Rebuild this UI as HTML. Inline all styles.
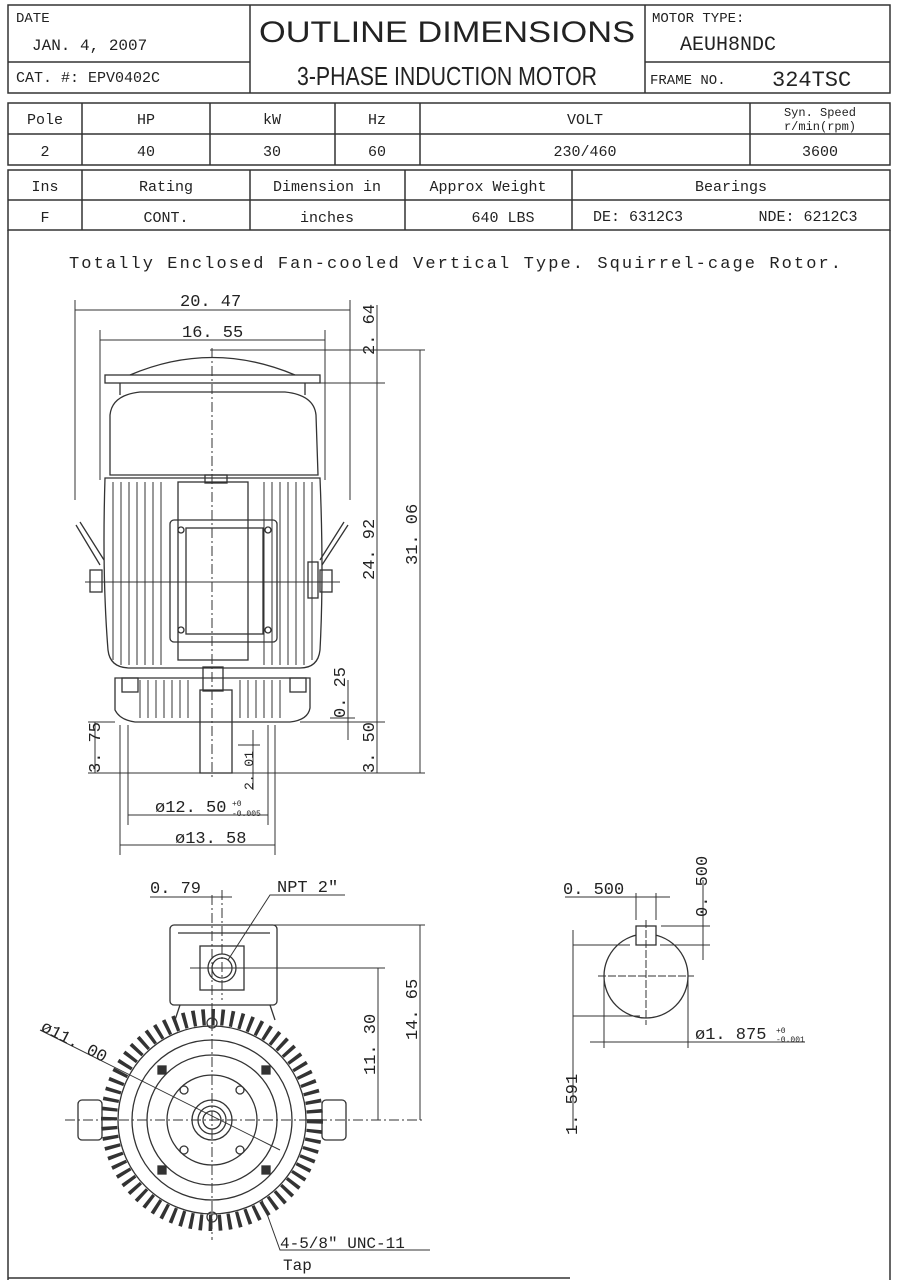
<!DOCTYPE html>
<html><head><meta charset="utf-8"><style>
html,body{margin:0;padding:0;background:#fff;}
svg{display:block}
text{font-family:"Liberation Mono","DejaVu Sans Mono",monospace;fill:#222}
.s{font-family:"Liberation Sans Narrow","Liberation Sans",sans-serif}
</style></head><body>
<svg width="899" height="1280" viewBox="0 0 899 1280" xmlns="http://www.w3.org/2000/svg">
<g fill="none" stroke="#333" stroke-width="1.5">
<rect x="8" y="5" width="882" height="88"/>
<line x1="250" y1="5" x2="250" y2="93"/><line x1="645" y1="5" x2="645" y2="93"/>
<line x1="8" y1="62" x2="250" y2="62"/><line x1="645" y1="62" x2="890" y2="62"/>
<rect x="8" y="103" width="882" height="62"/>
<line x1="8" y1="134" x2="890" y2="134"/>
<line x1="82" y1="103" x2="82" y2="165"/><line x1="210" y1="103" x2="210" y2="165"/>
<line x1="335" y1="103" x2="335" y2="165"/><line x1="420" y1="103" x2="420" y2="165"/>
<line x1="750" y1="103" x2="750" y2="165"/>
<rect x="8" y="170" width="882" height="60"/>
<line x1="8" y1="200" x2="890" y2="200"/>
<line x1="82" y1="170" x2="82" y2="230"/><line x1="250" y1="170" x2="250" y2="230"/>
<line x1="405" y1="170" x2="405" y2="230"/><line x1="572" y1="170" x2="572" y2="230"/>
<line x1="8" y1="230" x2="8" y2="1280"/><line x1="890" y1="230" x2="890" y2="1280"/>
<line x1="8" y1="1278" x2="570" y2="1278"/>
</g>
<text x="16" y="22" font-size="14">DATE</text>
<text x="32" y="50" font-size="16">JAN. 4, 2007</text>
<text x="16" y="82" font-size="15">CAT. #:  EPV0402C</text>
<text x="447" y="42" font-size="30" text-anchor="middle" class="s" textLength="376" lengthAdjust="spacingAndGlyphs">OUTLINE DIMENSIONS</text>
<text x="447" y="85" font-size="26" text-anchor="middle" class="s" textLength="300" lengthAdjust="spacingAndGlyphs">3-PHASE  INDUCTION  MOTOR</text>
<text x="652" y="22" font-size="14">MOTOR TYPE:</text>
<text x="680" y="50" font-size="20">AEUH8NDC</text>
<text x="650" y="84" font-size="14">FRAME NO.</text>
<text x="772" y="86" font-size="22">324TSC</text>
<g font-size="15" text-anchor="middle">
<text x="45" y="124">Pole</text><text x="146" y="124">HP</text><text x="272" y="124">kW</text><text x="377" y="124">Hz</text><text x="585" y="124">VOLT</text>
<text x="820" y="116" font-size="12">Syn. Speed</text><text x="820" y="130" font-size="12">r/min(rpm)</text>
<text x="45" y="156">2</text><text x="146" y="156">40</text><text x="272" y="156">30</text><text x="377" y="156">60</text><text x="585" y="156">230/460</text><text x="820" y="156">3600</text>
<text x="45" y="191">Ins</text><text x="166" y="191">Rating</text><text x="327" y="191">Dimension in</text><text x="488" y="191">Approx Weight</text><text x="731" y="191">Bearings</text>
<text x="45" y="222">F</text><text x="166" y="222">CONT.</text><text x="327" y="222">inches</text><text x="503" y="222">640 LBS</text><text x="638" y="221" font-size="15">DE: 6312C3</text><text x="808" y="221" font-size="15">NDE: 6212C3</text>
</g>
<text x="455" y="268" font-size="17" text-anchor="middle" textLength="772" lengthAdjust="spacing">Totally Enclosed Fan-cooled Vertical Type. Squirrel-cage Rotor.</text>

<g fill="none" stroke="#333" stroke-width="1.3">
<path d="M130 375 Q212 340 295 375"/>
<rect x="105" y="375" width="215" height="8"/>
<line x1="120" y1="383" x2="120" y2="395"/><line x1="305" y1="383" x2="305" y2="395"/>
<path d="M110 475 L110 415 Q112 395 140 392 L285 392 Q314 395 316 415 L318 475 Z"/>
<path d="M105 478 Q102 575 108 650 Q110 668 130 668 L300 668 Q318 668 320 650 Q324 575 320 478 Z"/>
<g stroke-width="1">
<line x1="113" y1="482" x2="113" y2="660"/><line x1="121" y1="482" x2="121" y2="665"/><line x1="129" y1="482" x2="129" y2="665"/><line x1="137" y1="482" x2="137" y2="665"/><line x1="145" y1="482" x2="145" y2="665"/><line x1="153" y1="482" x2="153" y2="665"/><line x1="161" y1="482" x2="161" y2="665"/>
<line x1="264" y1="482" x2="264" y2="665"/><line x1="272" y1="482" x2="272" y2="665"/><line x1="280" y1="482" x2="280" y2="665"/><line x1="288" y1="482" x2="288" y2="665"/><line x1="296" y1="482" x2="296" y2="665"/><line x1="304" y1="482" x2="304" y2="665"/><line x1="312" y1="482" x2="312" y2="660"/>
</g>
<rect x="178" y="482" width="70" height="178"/>
<rect x="170" y="520" width="107" height="122" rx="4"/>
<rect x="186" y="528" width="77" height="106"/>
<circle cx="181" cy="530" r="3"/><circle cx="268" cy="530" r="3"/><circle cx="181" cy="630" r="3"/><circle cx="268" cy="630" r="3"/>
<rect x="205" y="475" width="22" height="8"/>
<path d="M76 525 L100 565 M80 522 L104 560"/><path d="M348 525 L322 565 M344 522 L320 560"/>
<rect x="90" y="570" width="12" height="22"/><rect x="320" y="570" width="12" height="22"/>
<rect x="308" y="562" width="10" height="36"/>
<path d="M115 678 L115 710 Q120 720 135 722 L290 722 Q308 720 310 708 L310 678 Z"/>
<g stroke-width="1">
<line x1="140" y1="680" x2="140" y2="718"/><line x1="148" y1="680" x2="148" y2="718"/><line x1="156" y1="680" x2="156" y2="718"/><line x1="164" y1="680" x2="164" y2="718"/><line x1="172" y1="680" x2="172" y2="718"/><line x1="180" y1="680" x2="180" y2="718"/><line x1="188" y1="680" x2="188" y2="718"/>
<line x1="240" y1="680" x2="240" y2="718"/><line x1="248" y1="680" x2="248" y2="718"/><line x1="256" y1="680" x2="256" y2="718"/><line x1="264" y1="680" x2="264" y2="718"/><line x1="272" y1="680" x2="272" y2="718"/><line x1="280" y1="680" x2="280" y2="718"/>
</g>
<rect x="122" y="678" width="16" height="14"/><rect x="290" y="678" width="16" height="14"/>
<rect x="203" y="667" width="20" height="24"/>
<rect x="200" y="690" width="32" height="83"/>
<line x1="212" y1="348" x2="212" y2="780" stroke-dasharray="10 3 2 3" stroke-width="1"/>
<line x1="85" y1="582" x2="340" y2="582" stroke-width="1"/>
<g stroke-width="1">
<line x1="75" y1="300" x2="75" y2="500"/><line x1="350" y1="300" x2="350" y2="500"/><line x1="75" y1="310" x2="350" y2="310"/>
<line x1="100" y1="330" x2="100" y2="480"/><line x1="325" y1="330" x2="325" y2="480"/><line x1="100" y1="340" x2="325" y2="340"/>
<line x1="210" y1="350" x2="425" y2="350"/><line x1="280" y1="383" x2="385" y2="383"/>
<line x1="377" y1="305" x2="377" y2="773"/><line x1="420" y1="350" x2="420" y2="773"/>
<line x1="300" y1="722" x2="385" y2="722"/><line x1="230" y1="773" x2="425" y2="773"/>
<line x1="348" y1="680" x2="348" y2="740"/><line x1="330" y1="718" x2="355" y2="718"/>
<line x1="95" y1="722" x2="95" y2="773"/><line x1="88" y1="722" x2="115" y2="722"/><line x1="88" y1="773" x2="200" y2="773"/>
<line x1="253" y1="730" x2="253" y2="790"/><line x1="238" y1="745" x2="260" y2="745"/>
<line x1="128" y1="725" x2="128" y2="825"/><line x1="268" y1="725" x2="268" y2="825"/><line x1="128" y1="815" x2="268" y2="815"/>
<line x1="120" y1="725" x2="120" y2="855"/><line x1="275" y1="725" x2="275" y2="855"/><line x1="120" y1="845" x2="275" y2="845"/>
</g>
</g>
<g font-size="17">
<text x="180" y="306">20. 47</text>
<text x="182" y="337">16. 55</text>
<text transform="translate(374,355) rotate(-90)">2. 64</text>
<text transform="translate(374,580) rotate(-90)">24. 92</text>
<text transform="translate(417,565) rotate(-90)">31. 06</text>
<text transform="translate(345,718) rotate(-90)">0. 25</text>
<text transform="translate(374,773) rotate(-90)">3. 50</text>
<text transform="translate(100,773) rotate(-90)">3. 75</text>
<text transform="translate(253,790) rotate(-90)" font-size="13">2. 01</text>
<text x="155" y="812">ø12. 50</text><text x="232" y="806" font-size="8">+0</text><text x="232" y="816" font-size="8">-0.005</text>
<text x="175" y="843">ø13. 58</text>
</g>

<g fill="none" stroke="#333" stroke-width="1.3">
<rect x="170" y="925" width="107" height="80" rx="4"/>
<line x1="178" y1="933" x2="270" y2="933"/>
<rect x="200" y="946" width="44" height="44"/><circle cx="222" cy="968" r="14"/><circle cx="222" cy="968" r="10"/>
<path d="M180 1005 L175 1020 M270 1005 L275 1020"/>
<circle cx="212" cy="1120" r="103" stroke="#333" stroke-width="16" stroke-dasharray="3.5 6"/>
<circle cx="212" cy="1120" r="94"/>
<circle cx="212" cy="1120" r="80"/>
<circle cx="212" cy="1120" r="65"/>
<circle cx="212" cy="1120" r="45"/>
<circle cx="212" cy="1120" r="20"/><circle cx="212" cy="1120" r="14"/><circle cx="212" cy="1120" r="9"/>
<rect x="78" y="1100" width="24" height="40" rx="4"/><rect x="322" y="1100" width="24" height="40" rx="4"/>
<circle cx="184" cy="1090" r="4"/><circle cx="240" cy="1090" r="4"/><circle cx="184" cy="1150" r="4"/><circle cx="240" cy="1150" r="4"/>
<circle cx="212" cy="1023" r="5"/><circle cx="212" cy="1217" r="5"/>
<rect x="158" y="1066" width="8" height="8" fill="#333"/><rect x="262" y="1066" width="8" height="8" fill="#333"/><rect x="158" y="1166" width="8" height="8" fill="#333"/><rect x="262" y="1166" width="8" height="8" fill="#333"/>
<g stroke-width="1">
<line x1="212" y1="895" x2="212" y2="1240" stroke-dasharray="10 3 2 3"/>
<line x1="222" y1="890" x2="222" y2="1000" stroke-dasharray="10 3 2 3"/>
<line x1="65" y1="1120" x2="425" y2="1120" stroke-dasharray="10 3 2 3"/>
<line x1="190" y1="968" x2="385" y2="968"/><line x1="245" y1="925" x2="425" y2="925"/>
<line x1="378" y1="968" x2="378" y2="1120"/><line x1="420" y1="925" x2="420" y2="1120"/>
<line x1="150" y1="897" x2="232" y2="897"/>
<path d="M40 1030 L280 1150"/>
<path d="M228 960 L270 895 L345 895"/>
<path d="M262 1200 L280 1250 L430 1250"/>
</g>
</g>
<g font-size="17">
<text x="150" y="893">0. 79</text>
<text x="277" y="892">NPT 2"</text>
<text transform="translate(375,1075) rotate(-90)">11. 30</text>
<text transform="translate(417,1040) rotate(-90)">14. 65</text>
<text transform="translate(40,1030) rotate(27)">ø11. 00</text>
<text x="280" y="1248" font-size="16">4-5/8" UNC-11</text>
<text x="283" y="1270" font-size="16">Tap</text>
</g>

<g fill="none" stroke="#333" stroke-width="1.3">
<circle cx="646" cy="976" r="42"/>
<rect x="636" y="926" width="20" height="19" fill="#fff"/>
<g stroke-width="1">
<line x1="598" y1="976" x2="694" y2="976" stroke-dasharray="8 2"/><line x1="646" y1="920" x2="646" y2="1025" stroke-dasharray="8 2"/>
<line x1="565" y1="897" x2="670" y2="897"/><line x1="636" y1="893" x2="636" y2="920"/><line x1="656" y1="893" x2="656" y2="920"/>
<line x1="661" y1="926" x2="710" y2="926"/><line x1="660" y1="945" x2="710" y2="945"/><line x1="703" y1="880" x2="703" y2="960"/>
<line x1="573" y1="930" x2="573" y2="1130"/><line x1="573" y1="945" x2="630" y2="945"/><line x1="573" y1="1016" x2="640" y2="1016"/>
<line x1="604" y1="976" x2="604" y2="1048"/><line x1="688" y1="976" x2="688" y2="1048"/><line x1="590" y1="1042" x2="805" y2="1042"/>
</g>
</g>
<g font-size="17">
<text x="563" y="894">0. 500</text>
<text transform="translate(707,917) rotate(-90)">0. 500</text>
<text x="695" y="1039">ø1. 875</text><text x="776" y="1033" font-size="8">+0</text><text x="776" y="1042" font-size="8">-0.001</text>
<text transform="translate(577,1135) rotate(-90)">1. 591</text>
</g>
</svg>
</body></html>
